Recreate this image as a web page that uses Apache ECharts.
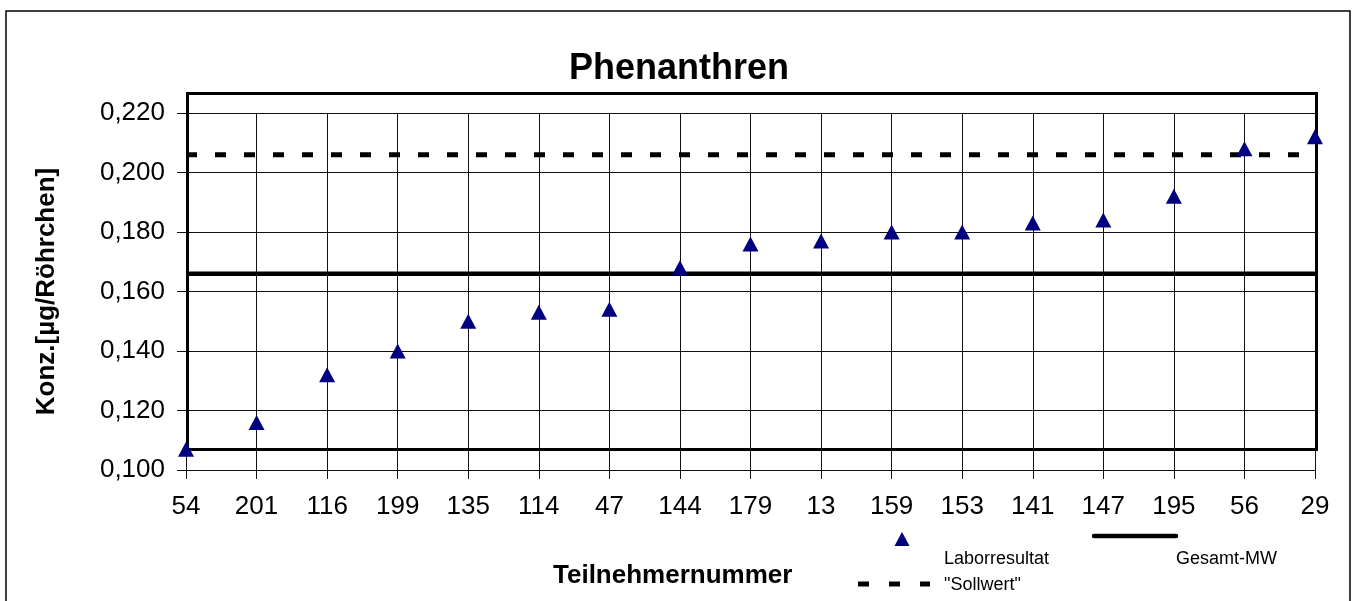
<!DOCTYPE html>
<html>
<head>
<meta charset="utf-8">
<script src="https://cdn.jsdelivr.net/npm/echarts@6/dist/echarts.min.js"></script>
<style>
  html, body { margin: 0; padding: 0; background: #fff; }
  #chart { width: 1358px; height: 601px; }
</style>
</head>
<body>
<div id="chart"></div>
<script>
// Teilnehmernummern, sorted by result
var participants = ['54', '201', '116', '199', '135', '114', '47', '144', '179',
  '13', '159', '153', '141', '147', '195', '56', '29']
// Laborresultat [µg/Röhrchen]
var labResults = [0.107, 0.116, 0.132, 0.140, 0.150, 0.153, 0.154, 0.168, 0.176,
  0.177, 0.180, 0.180, 0.183, 0.184, 0.192, 0.208, 0.212]
var overallMean = 0.166 // Gesamt-MW
var targetValue = 0.206 // "Sollwert"
var yMin = 0.100
var yMax = 0.220
var yStep = 0.020

var font = 'Liberation Sans, Arial, sans-serif'
var navy = '#000080'

// flat reference lines across all participants
var meanLine = participants.map(function () { return overallMean })
var targetLine = participants.map(function () { return targetValue })

var option = {
  backgroundColor: '#fff',
  animation: false,
  title: {
    text: 'Phenanthren',
    left: 'center',
    top: 46,
    textStyle: { color: '#000', fontSize: 36, fontWeight: 'bold', fontFamily: font }
  },
  grid: {
    left: 186,
    right: 43,
    top: 113,
    bottom: 131
  },
  xAxis: {
    type: 'category',
    data: participants,
    boundaryGap: false,
    axisLine: { show: true, lineStyle: { color: '#111', width: 1 } },
    axisTick: { show: true, length: 9, lineStyle: { color: '#111' } },
    axisLabel: { color: '#000', fontSize: 26, fontFamily: font, margin: 24 },
    splitLine: { show: true, lineStyle: { color: '#111', width: 1 } }
  },
  yAxis: {
    type: 'value',
    min: yMin,
    max: yMax,
    interval: yStep,
    name: 'Konz.[µg/Röhrchen]',
    nameLocation: 'middle',
    nameGap: 126,
    nameTextStyle: { color: '#000', fontSize: 26, fontWeight: 'bold', fontFamily: font },
    axisLine: { show: true, lineStyle: { color: '#111', width: 1 } },
    axisTick: { show: true, length: 9, lineStyle: { color: '#111' } },
    axisLabel: {
      color: '#000',
      fontSize: 26,
      fontFamily: font,
      margin: 21,
      formatter: function (v) { return v.toFixed(3).replace('.', ',') }
    },
    splitLine: { show: true, lineStyle: { color: '#111', width: 1 } }
  },
  graphic: [
    // outer chart frame
    {
      type: 'rect',
      z: 0,
      shape: { x: 6, y: 11, width: 1344, height: 640 },
      style: { fill: 'none', stroke: '#000', lineWidth: 1.5 }
    },
    // heavy plot frame
    {
      type: 'rect',
      z: 1,
      shape: { x: 187.5, y: 93.5, width: 1129, height: 356 },
      style: { fill: 'none', stroke: '#000', lineWidth: 3 }
    },
    {
      type: 'text',
      left: 553,
      top: 563,
      style: { text: 'Teilnehmernummer', fill: '#000', font: 'bold 26px ' + font }
    },
    // legend
    {
      type: 'polygon',
      shape: { points: [[894.5, 546], [902, 532], [909.5, 546]] },
      style: { fill: navy }
    },
    {
      type: 'text',
      left: 944,
      top: 550,
      style: { text: 'Laborresultat', fill: '#000', font: '18px ' + font }
    },
    {
      type: 'line',
      shape: { x1: 1094, y1: 536, x2: 1176, y2: 536 },
      style: { stroke: '#000', lineWidth: 4.5, lineCap: 'round' }
    },
    {
      type: 'text',
      left: 1176,
      top: 550,
      style: { text: 'Gesamt-MW', fill: '#000', font: '18px ' + font }
    },
    {
      type: 'line',
      shape: { x1: 858, y1: 584, x2: 930, y2: 584 },
      style: { stroke: '#000', lineWidth: 5, lineDash: [11, 20] }
    },
    {
      type: 'text',
      left: 944,
      top: 576,
      style: { text: '"Sollwert"', fill: '#000', font: '18px ' + font }
    }
  ],
  series: [
    {
      name: 'Gesamt-MW',
      type: 'line',
      data: meanLine,
      symbol: 'none',
      silent: true,
      z: 3,
      lineStyle: { color: '#000', width: 4.5, type: 'solid' }
    },
    {
      name: '"Sollwert"',
      type: 'line',
      data: targetLine,
      symbol: 'none',
      silent: true,
      z: 3,
      lineStyle: { color: '#000', width: 5, type: [11, 18] }
    },
    {
      name: 'Laborresultat',
      type: 'scatter',
      data: labResults,
      symbol: 'triangle',
      symbolSize: [16, 15],
      z: 5,
      itemStyle: { color: navy, opacity: 1 }
    }
  ]
}

var chart = echarts.init(document.getElementById('chart'))
chart.setOption(option)
</script>
</body>
</html>
